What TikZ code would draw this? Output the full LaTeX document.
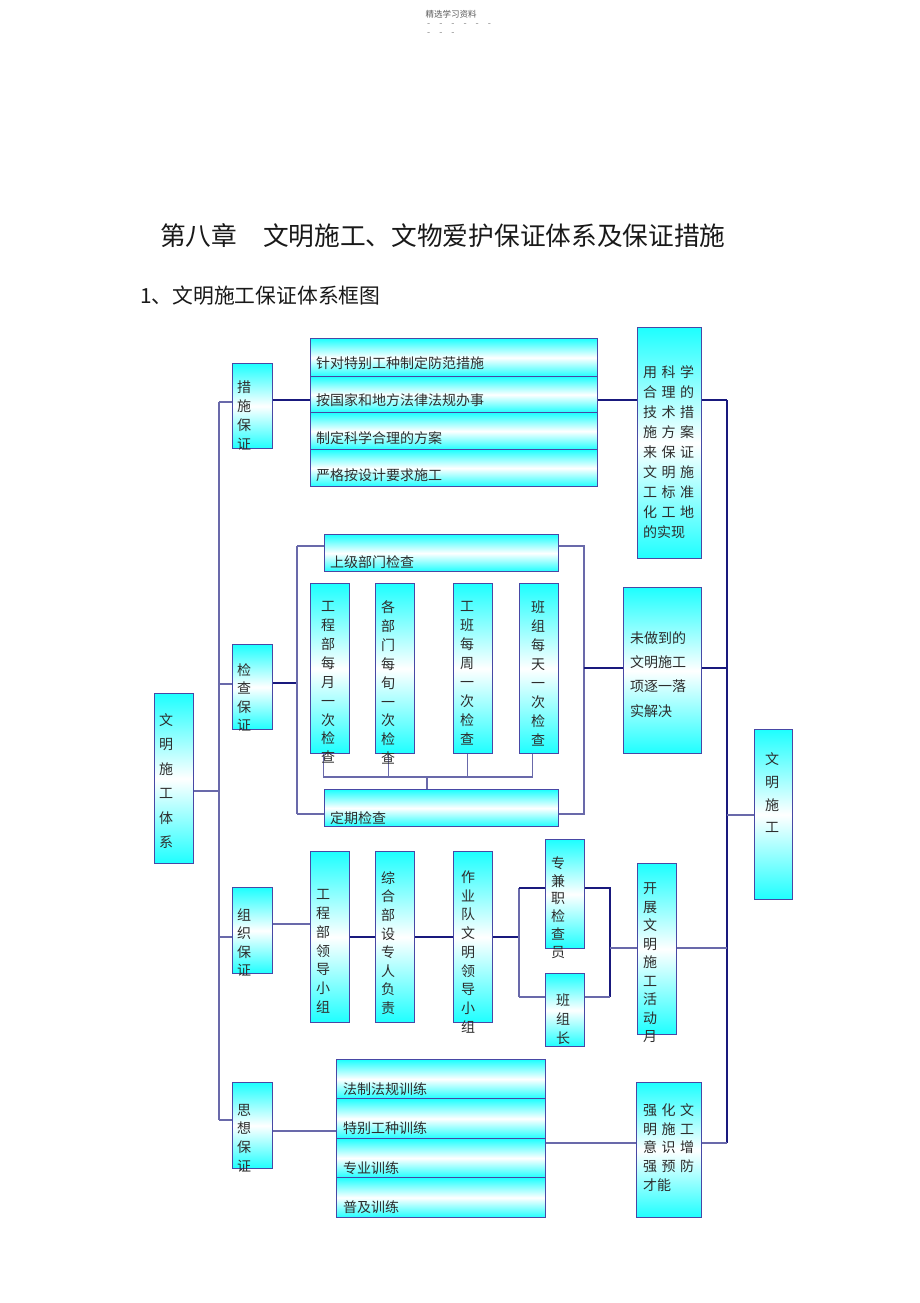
\documentclass[tikz,border=0pt]{standalone}
\usepackage{fontspec}
\setmainfont{Noto Sans CJK SC}
\newcommand{\cgap}{\hspace{4.5pt}}
\newcommand{\dg}{-\hspace{9pt}}
\definecolor{cy}{RGB}{30,255,255}
\definecolor{bd}{RGB}{72,72,165}
\definecolor{lnl}{RGB}{105,105,170}
\definecolor{lnn}{RGB}{25,25,125}
\definecolor{tx}{RGB}{45,45,45}
\tikzset{
  box/.style={draw=bd, line width=1.3pt, top color=cy, bottom color=cy, middle color=white, inner sep=0, anchor=north west},
  vt/.style={text=tx, inner sep=0, align=center, font=\fontsize{14}{#1}\selectfont},
  ht/.style={text=tx, inner sep=0, anchor=west, font=\fontsize{14}{17}\selectfont},
  lt/.style={text=tx, inner sep=0, anchor=west, align=left, font=\fontsize{14}{#1}\selectfont},
  lnA/.style={draw=lnl, line width=1.5pt},
  lnB/.style={draw=lnn, line width=1.5pt},
  dashtxt/.style={text=black!50, inner sep=0, anchor=base west, font=\fontsize{9}{10}\selectfont},
}
\begin{document}
\begin{tikzpicture}[x=1pt,y=-1pt]
\fill[white] (0,0) rectangle (920,1303);
\useasboundingbox (0,0) rectangle (920,1303);
% header
\node[text=black!65, inner sep=0, anchor=base, font=\fontsize{8.5}{10}\selectfont] (hdr) at (451,18) {精选学习资料};
\node[dashtxt] (hd1) at (427,26.5) {\dg\dg\dg\dg\dg-};
\node[dashtxt] (hd2) at (427,35.5) {\dg\dg-};
% titles
\node[text=black!90, inner sep=0, anchor=west, font=\fontsize{25.7}{30}\selectfont] (title) at (160,236) {第八章\hspace{1em}文明施工、文物爱护保证体系及保证措施};
\node[text=black!90, inner sep=0, anchor=west, font=\fontsize{20.8}{24}\selectfont] (sub) at (140,296) {1、文明施工保证体系框图};

% boxes
\node[box, minimum width=39pt, minimum height=170pt] (sys) at (154,693) {};
\node[box, minimum width=40pt, minimum height=85pt] (cs) at (232,363) {};
\node[box, minimum width=287pt, minimum height=38pt] (m1) at (310,338) {};
\node[box, minimum width=287pt, minimum height=36pt] (m2) at (310,376) {};
\node[box, minimum width=287pt, minimum height=37pt] (m3) at (310,412) {};
\node[box, minimum width=287pt, minimum height=37pt] (m4) at (310,449) {};
\node[box, minimum width=64pt, minimum height=231pt] (kx) at (637,327) {};
\node[box, minimum width=40pt, minimum height=85pt] (jc) at (232,644) {};
\node[box, minimum width=234pt, minimum height=37pt] (sj) at (324,534) {};
\node[box, minimum width=39pt, minimum height=170pt] (c1) at (310,583) {};
\node[box, minimum width=39pt, minimum height=170pt] (c2) at (375,583) {};
\node[box, minimum width=39pt, minimum height=170pt] (c3) at (453,583) {};
\node[box, minimum width=39pt, minimum height=170pt] (c4) at (519,583) {};
\node[box, minimum width=234pt, minimum height=37pt] (dq) at (324,789) {};
\node[box, minimum width=78pt, minimum height=166pt] (wz) at (623,587) {};
\node[box, minimum width=40pt, minimum height=86pt] (zz) at (232,887) {};
\node[box, minimum width=39pt, minimum height=171pt] (g1) at (310,851) {};
\node[box, minimum width=39pt, minimum height=171pt] (g2) at (375,851) {};
\node[box, minimum width=39pt, minimum height=171pt] (g3) at (453,851) {};
\node[box, minimum width=39pt, minimum height=109pt] (g4) at (545,839) {};
\node[box, minimum width=39pt, minimum height=73pt] (g5) at (545,973) {};
\node[box, minimum width=39pt, minimum height=171pt] (kz) at (637,863) {};
\node[box, minimum width=40pt, minimum height=86pt] (sx) at (232,1082) {};
\node[box, minimum width=209pt, minimum height=39pt] (t1) at (336,1059) {};
\node[box, minimum width=209pt, minimum height=40pt] (t2) at (336,1098) {};
\node[box, minimum width=209pt, minimum height=39pt] (t3) at (336,1138) {};
\node[box, minimum width=209pt, minimum height=40pt] (t4) at (336,1177) {};
\node[box, minimum width=65pt, minimum height=135pt] (qh) at (636,1082) {};
\node[box, minimum width=38pt, minimum height=170pt] (wm) at (754,729) {};

% helper coordinates
\coordinate (s1) at (219,402);
\coordinate (s2) at (219,684);
\coordinate (s3) at (219,791);
\coordinate (s4) at (219,937);
\coordinate (s5) at (219,1120);
\coordinate (h400) at (0,400);
\coordinate (r1) at (727,400);
\coordinate (r2) at (727,668);
\coordinate (r3) at (727,815);
\coordinate (r4) at (727,948);
\coordinate (r5) at (727,1143);
\coordinate (b1) at (297,683);
\coordinate (bt) at (297,546);
\coordinate (bb) at (297,814);
\coordinate (rt) at (584,546);
\coordinate (rb) at (584,814);
\coordinate (rc) at (584,668);
\coordinate (k) at (427,777);
\coordinate (h924) at (0,924);
\coordinate (q1) at (519,937);
\coordinate (qt) at (519,888);
\coordinate (qb) at (519,997);
\coordinate (pt) at (610,888);
\coordinate (pb) at (610,997);
\coordinate (pc) at (610,948);
\coordinate (h1131) at (0,1131);

% connectors
\draw[lnA, line width=2pt] (s1) -- (s5);
\draw[lnA] (s1) -- (cs.west |- s1);
\draw[lnA] (s2) -- (jc.west |- s2);
\draw[lnA] (sys.east |- s3) -- (s3);
\draw[lnA] (s4) -- (zz.west |- s4);
\draw[lnA] (s5) -- (sx.west |- s5);

\draw[lnB] (cs.east |- h400) -- (m2.west |- h400);
\draw[lnB] (m2.east |- h400) -- (kx.west |- h400);
\draw[lnB] (kx.east |- h400) -- (r1);
\draw[lnB, line width=2pt] (r1) -- (r5);

\draw[lnB] (jc.east |- b1) -- (b1);
\draw[lnA] (bt) -- (bb);
\draw[lnA] (bt) -- (sj.west |- bt);
\draw[lnA] (bb) -- (dq.west |- bb);
\draw[lnA] (sj.east |- rt) -- (rt) -- (rb) -- (dq.east |- rb);
\draw[lnB] (rc) -- (wz.west |- rc);
\draw[lnB] (wz.east |- r2) -- (r2);
\draw[lnA] ([xshift=-6.5]c1.south) |- (k) -| ([xshift=-6.5]c4.south);
\draw[lnA] ([xshift=-6.5]c2.south) -- ([xshift=-6.5]c2.south |- k);
\draw[lnA] ([xshift=-5.5]c3.south) -- ([xshift=-5.5]c3.south |- k);
\draw[lnA] (k) -- (dq.north -| k);
\draw[lnA] (r3) -- (wm.west |- r3);

\draw[lnA, line width=2pt] (zz.east |- h924) -- (g1.west |- h924);
\draw[lnB] (g1.east |- q1) -- (g2.west |- q1);
\draw[lnB] (g2.east |- q1) -- (g3.west |- q1);
\draw[lnB] (g3.east |- q1) -- (q1);
\draw[lnA] (qt) -- (qb);
\draw[lnB, line width=2pt] (qt) -- (g4.west |- qt);
\draw[lnA] (qb) -- (g5.west |- qb);
\draw[lnB, line width=2pt] (g4.east |- pt) -- (pt) -- (pb);
\draw[lnA] (pb) -- (g5.east |- pb);
\draw[lnA] (pc) -- (kz.west |- pc);
\draw[lnA] (kz.east |- r4) -- (r4);

\draw[lnA] (sx.east |- h1131) -- (t2.west |- h1131);
\draw[lnA] (t3.east |- r5) -- (qh.west |- r5);
\draw[lnA] (qh.east |- r5) -- (r5);

% texts
\node[vt=24.4] (sysT) at (166,781) {文\\明\\施\\工\\体\\系};
\node[vt=19] (csT) at (244,415.5) {措\\施\\保\\证};
\node[ht] (m1T) at (316,363) {针对特别工种制定防范措施};
\node[ht] (m2T) at (316,400) {按国家和地方法律法规办事};
\node[ht] (m3T) at (316,438) {制定科学合理的方案};
\node[ht] (m4T) at (316,475) {严格按设计要求施工};
\node[lt=20] (kxT) at (643,452) {用\cgap{}科\cgap{}学\\合\cgap{}理\cgap{}的\\技\cgap{}术\cgap{}措\\施\cgap{}方\cgap{}案\\来\cgap{}保\cgap{}证\\文\cgap{}明\cgap{}施\\工\cgap{}标\cgap{}准\\化\cgap{}工\cgap{}地\\的实现};
\node[vt=18.3] (jcT) at (244,697.5) {检\\查\\保\\证};
\node[ht] (sjT) at (330,562) {上级部门检查};
\node[ht] (dqT) at (330,818) {定期检查};
\node[vt=18.9] (c1T) at (328,682.5) {工\\程\\部\\每\\月\\一\\次\\检\\查};
\node[vt=18.9] (c2T) at (388,682.5) {各\\部\\门\\每\\旬\\一\\次\\检\\查};
\node[vt=19] (c3T) at (467,673.5) {工\\班\\每\\周\\一\\次\\检\\查};
\node[vt=19] (c4T) at (538,673.5) {班\\组\\每\\天\\一\\次\\检\\查};
\node[lt=24.3] (wzT) at (630,674.5) {未做到的\\文明施工\\项逐一落\\实解决};
\node[vt=18.3] (zzT) at (244,942.5) {组\\织\\保\\证};
\node[vt=18.8] (g1T) at (323,951.5) {工\\程\\部\\领\\导\\小\\组};
\node[vt=18.6] (g2T) at (388,943) {综\\合\\部\\设\\专\\人\\负\\责};
\node[vt=18.75] (g3T) at (468,952) {作\\业\\队\\文\\明\\领\\导\\小\\组};
\node[vt=17.8] (g4T) at (558,907.5) {专\\兼\\职\\检\\查\\员};
\node[vt=19] (g5T) at (563,1019) {班\\组\\长};
\node[vt=18.5] (kzT) at (650,963) {开\\展\\文\\明\\施\\工\\活\\动\\月};
\node[vt=18.7] (sxT) at (244,1138) {思\\想\\保\\证};
\node[ht] (t1T) at (343,1089) {法制法规训练};
\node[ht] (t2T) at (343,1128) {特别工种训练};
\node[ht] (t3T) at (343,1168) {专业训练};
\node[ht] (t4T) at (343,1207) {普及训练};
\node[lt=18.75] (qhT) at (643,1147.5) {强\cgap{}化\cgap{}文\\明\cgap{}施\cgap{}工\\意\cgap{}识\cgap{}增\\强\cgap{}预\cgap{}防\\才能};
\node[vt=22.7] (wmT) at (772,793) {文\\明\\施\\工};
\end{tikzpicture}
\end{document}
